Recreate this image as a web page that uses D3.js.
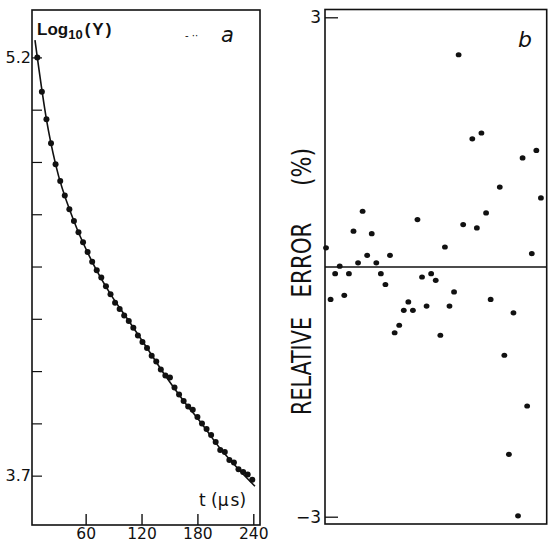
<!DOCTYPE html>
<html>
<head>
<meta charset="utf-8">
<script src="https://cdn.jsdelivr.net/npm/d3@7"></script>
<style>
  body { margin: 0; background: #fff; }
  svg { display: block; }
  text { font-family: "DejaVu Sans", sans-serif; fill: #111; }
</style>
</head>
<body>
<svg id="svg" width="550" height="544"></svg>
<script>
// sample times (µs), shared by both panels
var times = [8.1, 13.0, 17.9, 22.8, 27.7, 32.7, 37.6, 42.5, 47.4, 52.3,
             57.2, 62.1, 67.0, 71.9, 76.8, 81.8, 86.7, 91.6, 96.5, 101.4,
             106.3, 111.2, 116.1, 121.0, 125.9, 130.9, 135.8, 140.7, 145.6, 150.5,
             155.4, 160.3, 165.2, 170.1, 175.0, 180.0, 184.9, 189.8, 194.7, 199.6,
             204.5, 209.4, 214.3, 219.2, 224.1, 229.1, 234.0, 238.9];

// panel a : log10(Y)
var logY = [5.200, 5.077, 4.978, 4.892, 4.817, 4.757, 4.705, 4.655, 4.613, 4.573,
            4.537, 4.502, 4.467, 4.437, 4.411, 4.379, 4.351, 4.320, 4.298, 4.274,
            4.255, 4.230, 4.203, 4.179, 4.158, 4.130, 4.109, 4.081, 4.059, 4.052,
            4.016, 3.991, 3.968, 3.948, 3.936, 3.910, 3.887, 3.867, 3.846, 3.821,
            3.792, 3.785, 3.756, 3.747, 3.723, 3.713, 3.704, 3.685];

// fitted curve for panel a
var fitT = [5.6, 8.1, 17.9, 27.7, 47.4, 67.0, 86.7, 106.3, 125.9, 145.6, 165.2, 184.9, 204.5, 224.1, 241.8];
var fitLogY = [5.262, 5.200, 4.978, 4.817, 4.613, 4.467, 4.351, 4.255, 4.158, 4.058, 3.968, 3.885, 3.797, 3.723, 3.662];

// panel b : relative error (%), null = off the plot
var relErr = [0.23, -0.39, -0.08, 0.01, -0.34, -0.08, 0.43, 0.05, 0.67, 0.14,
              0.40, 0.05, -0.08, -0.21, 0.14, -0.79, -0.70, -0.52, -0.42, -0.52,
              0.57, -0.12, -0.47, -0.08, -0.16, -0.82, 0.24, -0.47, -0.30, 2.55,
              0.51, null, 1.54, 0.47, 1.61, 0.65, -0.39, null, 0.96, -1.06,
              -2.25, -0.55, -2.99, 1.31, -1.67, 0.16, 1.40, 0.83];

var xTicksA = [60, 120, 180, 240];
var yTicksA = [3.7, 3.8875, 4.075, 4.2625, 4.45, 4.6375, 4.825, 5.0125, 5.2];
var yLabelsA = ["3.7", "", "", "", "", "", "", "", "5.2"];
var yTicksB = [-3, 3];

var svg = d3.select("#svg");
var ink = "#111";

// ---------- panel a ----------
var A = {left: 32, right: 260, top: 10, bottom: 525};
var xA = d3.scaleLinear().domain([2.4, 247.2]).range([A.left, A.right]);
var yA = d3.scaleLinear().domain([3.523, 5.370]).range([A.bottom, A.top]);

var ga = svg.append("g");

ga.append("g")
    .attr("transform", "translate(" + A.left + ",0)")
    .call(d3.axisLeft(yA).tickValues(yTicksA).tickSizeInner(-10).tickSizeOuter(0).tickPadding(1)
          .tickFormat(function(d, i){ return yLabelsA[i]; }))
    .call(function(g){ g.select(".domain").remove(); })
    .call(function(g){
        g.selectAll("line").attr("stroke", ink).attr("stroke-width", 1.2);
        g.selectAll("text").attr("font-size", 16).attr("fill", ink).style("font-family", "DejaVu Sans");
    });

ga.append("g")
    .attr("transform", "translate(0," + A.bottom + ")")
    .call(d3.axisBottom(xA).tickValues(xTicksA).tickSizeInner(-11).tickSizeOuter(0).tickPadding(3))
    .call(function(g){ g.select(".domain").remove(); })
    .call(function(g){
        g.selectAll("line").attr("stroke", ink).attr("stroke-width", 1.4);
        g.selectAll("text").attr("font-size", 15.5).attr("fill", ink).style("font-family", "DejaVu Sans");
    });

ga.append("rect")
    .attr("x", A.left).attr("y", A.top)
    .attr("width", A.right - A.left).attr("height", A.bottom - A.top)
    .attr("fill", "none").attr("stroke", ink).attr("stroke-width", 1.6);

var fitLine = d3.line()
    .x(function(d, i){ return xA(fitT[i]); })
    .y(function(d){ return yA(d); })
    .curve(d3.curveMonotoneX);

ga.append("path").datum(fitLogY)
    .attr("fill", "none")
    .attr("stroke", ink)
    .attr("stroke-width", 1.6)
    .attr("d", fitLine);

ga.selectAll(".pa").data(logY).enter().append("circle")
    .attr("class", "pa")
    .attr("cx", function(d, i){ return xA(times[i]); })
    .attr("cy", function(d){ return yA(d); })
    .attr("r", 3)
    .attr("fill", ink);

var lab = ga.append("text")
    .attr("x", 37).attr("y", 35)
    .attr("font-size", 17).attr("font-weight", "bold")
    .style("font-family", "Liberation Sans");
lab.append("tspan").text("Log");
lab.append("tspan").attr("font-size", 13).attr("dy", 4).text("10");
lab.append("tspan").attr("dy", -4).attr("dx", 2).attr("letter-spacing", 2).text("(Y)");

ga.append("text")
    .attr("x", 185).attr("y", 39)
    .attr("font-size", 10).attr("fill", "#666")
    .text("-  \u00b7\u00b7");

ga.append("text")
    .attr("x", 221).attr("y", 42)
    .attr("font-size", 21).attr("font-style", "italic")
    .text("a");

var tl = ga.append("text")
    .attr("x", 199).attr("y", 506)
    .attr("font-size", 17)
    .style("font-family", "DejaVu Sans");
tl.append("tspan").text("t (");
tl.append("tspan").text("\u00b5");
tl.append("tspan").attr("dx", 2).text("s)");

// ---------- panel b ----------
var B = {left: 325, right: 546.7, top: 9.5, bottom: 524};
var xB = d3.scaleLinear().domain([7.0, 245.1]).range([B.left, B.right]);
var yB = d3.scaleLinear().domain([-3, 3]).range([516.7, 17.3]);

var gb = svg.append("g");

gb.append("g")
    .attr("transform", "translate(" + B.left + ",0)")
    .call(d3.axisLeft(yB).tickValues(yTicksB).tickSizeInner(-13).tickSizeOuter(0).tickPadding(4)
          .tickFormat(d3.format("d")))
    .call(function(g){ g.select(".domain").remove(); })
    .call(function(g){
        g.selectAll("line").attr("stroke", ink).attr("stroke-width", 1.3);
        g.selectAll("text").attr("font-size", 17).attr("fill", ink).style("font-family", "DejaVu Sans");
    });

gb.append("rect")
    .attr("x", B.left).attr("y", B.top)
    .attr("width", B.right - B.left).attr("height", B.bottom - B.top)
    .attr("fill", "none").attr("stroke", ink).attr("stroke-width", 1.6);

gb.append("line")
    .attr("x1", B.left).attr("x2", B.right)
    .attr("y1", yB(0)).attr("y2", yB(0))
    .attr("stroke", ink).attr("stroke-width", 1.3);

gb.selectAll(".pb").data(relErr.map(function(d, i){ return {t: times[i], e: d}; })
        .filter(function(d){ return d.e !== null; }))
    .enter().append("ellipse")
    .attr("class", "pb")
    .attr("cx", function(d){ return xB(d.t); })
    .attr("cy", function(d){ return yB(d.e); })
    .attr("rx", 2.9).attr("ry", 2.6)
    .attr("fill", ink);

gb.append("text")
    .attr("x", 518).attr("y", 47)
    .attr("font-size", 22).attr("font-style", "italic")
    .text("b");

// rotated y label, in three words as in the original
[["RELATIVE", 366, 98], ["ERROR", 260, 75], ["(%)", 167, 38]].forEach(function(w){
    gb.append("text")
        .attr("transform", "translate(311," + w[1] + ") rotate(-90)")
        .attr("text-anchor", "middle")
        .attr("font-size", 26)
        .attr("textLength", w[2])
        .attr("lengthAdjust", "spacingAndGlyphs")
        .style("font-family", "DejaVu Sans Condensed, DejaVu Sans")
        .text(w[0]);
});
</script>
</body>
</html>
